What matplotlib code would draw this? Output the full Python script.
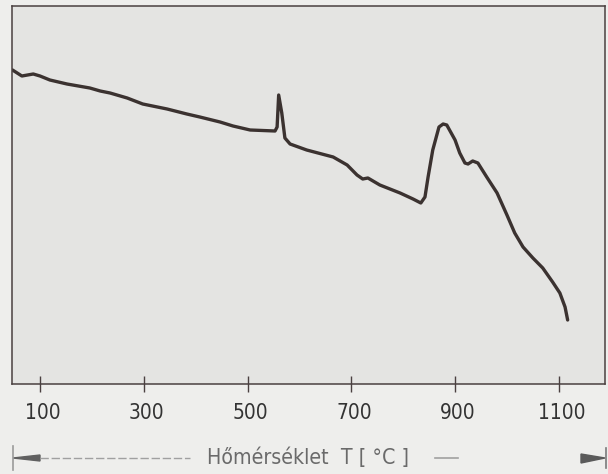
import matplotlib
matplotlib.use("Agg")
import matplotlib.pyplot as plt
import matplotlib.transforms as mtransforms
from matplotlib.lines import Line2D
from matplotlib.patches import Polygon

# DTA-like curve: temperature (°C) vs. signal (arbitrary units)
temperature = [47, 65, 87, 100, 119, 152, 196, 216, 235, 268, 298, 345, 383, 408,
               447, 472, 505, 553, 557, 560, 566, 572, 582, 614, 665, 692, 711,
               722, 732, 755, 794, 819, 834, 842, 848, 857, 869, 877, 884, 900,
               909, 919, 925, 934, 944, 961, 981, 1000, 1015, 1031, 1050, 1069,
               1088, 1102, 1112, 1117]
signal = [314, 308, 310, 308, 304, 300, 296, 293, 291, 286, 280, 275, 270, 267,
          262, 258, 254, 253, 257, 289, 271, 246, 240, 234, 227, 219, 209,
          205, 206, 199, 191, 185, 181, 187, 207, 234, 257, 260, 259, 244,
          231, 221, 220, 223, 221, 207, 191, 169, 151, 137, 126, 116,
          102, 91, 77, 64]
tick_values = [100, 300, 500, 700, 900, 1100]
xlabel_text = "Hőmérséklet  T [ °C ]"

fam = ['DejaVu Sans']
plt.rcParams['font.family'] = fam
plt.rcParams['font.stretch'] = 'condensed'

fig = plt.figure(figsize=(6.08, 4.74), dpi=100)
fig.patch.set_facecolor('#eeeeec')
W, H = 608, 474
ax = fig.add_axes([12 / W, 1 - 384 / H, (605 - 12) / W, (384 - 6) / H])
ax.set_facecolor('#e4e4e2')

ax.plot(temperature, signal, color='#3b3230', lw=2.4,
        solid_joinstyle='round', solid_capstyle='round')

ax.set_xlim(46, 1189)
ax.set_ylim(0, 378)
ax.set_yticks([])
ax.set_xticks(tick_values)
ax.set_xticklabels([str(v) for v in tick_values])
ax.tick_params(axis='x', direction='inout', length=11.5, width=1.0,
               color='#4a4040', labelsize=15, labelcolor='#333333', pad=8)
for sp in ax.spines.values():
    sp.set_color('#4a4040')
    sp.set_linewidth(1.1)

off = mtransforms.ScaledTranslation(0.03, 0, fig.dpi_scale_trans)
for lab in ax.get_xticklabels():
    lab.set_transform(lab.get_transform() + off)

# axis caption with arrow decoration
yc = 1 - 458 / H
fig.text(207 / W, yc, xlabel_text, ha='left', va='center', fontsize=15.3,
         color='#6a6a6a')
fig.add_artist(Line2D([40 / W, 190 / W], [yc, yc], transform=fig.transFigure,
                      color='#a0a0a0', lw=1.0, ls=(0, (6, 2))))
fig.add_artist(Line2D([435 / W, 458 / W], [yc, yc], transform=fig.transFigure,
                      color='#a0a0a0', lw=1.2))
# left end: bar + arrow
fig.add_artist(Line2D([13 / W, 13 / W], [1 - 446 / H, 1 - 470 / H],
                      transform=fig.transFigure, color='#9a9a9a', lw=1.2))
fig.add_artist(Polygon([[13 / W, yc], [40 / W, 1 - 455 / H], [40 / W, 1 - 461 / H]],
                       closed=True, transform=fig.transFigure,
                       facecolor='#606060', edgecolor='#606060', lw=1))
# right end: arrow + bar
fig.add_artist(Polygon([[605 / W, yc], [581 / W, 1 - 454 / H], [581 / W, 1 - 463 / H]],
                       closed=True, transform=fig.transFigure,
                       facecolor='#5a5a5a', edgecolor='#5a5a5a', lw=1))
fig.add_artist(Line2D([606 / W, 606 / W], [1 - 448 / H, 1 - 468 / H],
                      transform=fig.transFigure, color='#7a7a7a', lw=1.2))

fig.savefig('out.png', dpi=100, facecolor=fig.get_facecolor())
